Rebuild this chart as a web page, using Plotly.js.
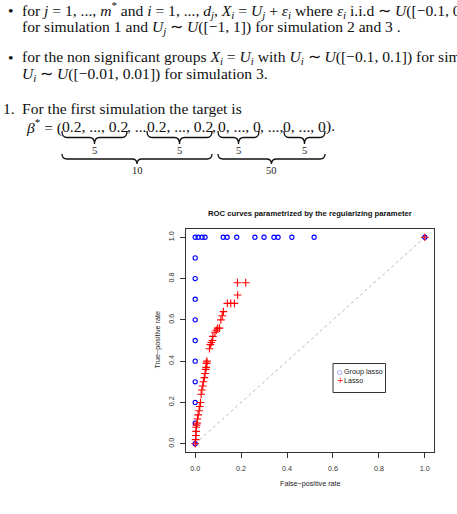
<!DOCTYPE html>
<html>
<head>
<meta charset="utf-8">
<script src="https://cdn.plot.ly/plotly-3.0.1.min.js"></script>
<style>
  html, body { margin: 0; padding: 0; background: #fff; }
  #chart { width: 457px; height: 514px; }
</style>
</head>
<body>
<div id="chart"></div>
<script>
// ROC curve data (false-positive rate, true-positive rate) along the regularization path
const groupLassoFPR = [0, 0, 0, 0, 0, 0, 0, 0, 0, 0,
  0, 0.013, 0.03, 0.043, 0.122, 0.139, 0.181, 0.26, 0.30, 0.343, 0.361, 0.421, 0.518, 1.0];
const groupLassoTPR = [0, 0.1, 0.2, 0.3, 0.4, 0.5, 0.6, 0.7, 0.8, 0.9,
  1, 1, 1, 1, 1, 1, 1, 1, 1, 1, 1, 1, 1, 1.0];

const lassoFPR = [0.000, 0.002, 0.003, 0.004, 0.004, 0.006, 0.008, 0.010, 0.013, 0.017,
  0.020, 0.023, 0.026, 0.029, 0.033, 0.036, 0.040, 0.043, 0.046, 0.048,
  0.048, 0.051, 0.051, 0.062, 0.066, 0.070, 0.075, 0.077, 0.086, 0.092,
  0.098, 0.106, 0.112, 0.118, 0.123, 0.140, 0.155, 0.171, 0.185, 0.184,
  0.220, 1.0];
const lassoTPR = [0.00, 0.02, 0.04, 0.06, 0.08, 0.09, 0.10, 0.12, 0.14, 0.16,
  0.18, 0.20, 0.24, 0.26, 0.28, 0.30, 0.32, 0.34, 0.36, 0.37,
  0.39, 0.40, 0.39, 0.46, 0.48, 0.49, 0.50, 0.52, 0.54, 0.55,
  0.56, 0.56, 0.60, 0.62, 0.64, 0.68, 0.68, 0.68, 0.72, 0.78,
  0.78, 1.0];

const chanceX = [0, 1];
const chanceY = [0, 1];

const tickVals = [0, 0.2, 0.4, 0.6, 0.8, 1.0];
const tickText = ['0.0', '0.2', '0.4', '0.6', '0.8', '1.0'];

const seriesNames = ['Group lasso', 'Lasso'];

// ---- page geometry (pixels) ----
const W = 457, H = 514;
const M = { l: 186, r: 23, t: 229, b: 62 };
const plotW = W - M.l - M.r, plotH = H - M.t - M.b;
const px = x => (x - M.l) / plotW;          // pixel x -> paper x
const py = y => (H - M.b - y) / plotH;      // pixel y -> paper y

const sans = 'Liberation Sans, Arial, sans-serif';
const serif = 'Liberation Serif, Times New Roman, serif';
const bodySize = 15.6;

const annotations = [];
function text(t, x, y, opts) {
  annotations.push(Object.assign({
    text: t, x: px(x), y: py(y), xref: 'paper', yref: 'paper',
    xanchor: 'left', yanchor: 'middle', showarrow: false, borderpad: 0,
    font: { family: serif, size: bodySize, color: '#111' }
  }, opts || {}));
}

// body text above the figure
text('•', 7, 10);
text('for <i>j</i> = 1, ..., <i>m</i><sup>*</sup> and <i>i</i> = 1, ..., <i>d<sub>j</sub></i>, <i>X<sub>i</sub></i> = <i>U<sub>j</sub></i> + <i>ε<sub>i</sub></i> where <i>ε<sub>i</sub></i> i.i.d ∼ <i>U</i>([−0.1, 0.1])', 21, 10);
text('for simulation 1 and <i>U<sub>j</sub></i> ∼ <i>U</i>([−1, 1]) for simulation 2 and 3 .', 21, 27);
text('•', 7, 57);
text('for the non significant groups <i>X<sub>i</sub></i> = <i>U<sub>i</sub></i> with <i>U<sub>i</sub></i> ∼ <i>U</i>([−0.1, 0.1]) for simulation 1 and 2 and', 21, 57);
text('<i>U<sub>i</sub></i> ∼ <i>U</i>([−0.01, 0.01]) for simulation 3.', 21, 74);
text('1.', 2, 108);
text('For the first simulation the target is', 21, 108);

// target vector, split so each run sits over its brace
const rowY = 126.5;
text('<i>β</i><sup>*</sup> = (', 62.5, rowY, { xanchor: 'right' });
text('0.2, ..., 0.2', 94.5, rowY, { xanchor: 'center' });
text(', ...', 126, rowY);
text('0.2, ..., 0.2', 179.5, rowY, { xanchor: 'center' });
text(',', 211, rowY);
text('0, ..., 0', 239, rowY, { xanchor: 'center' });
text(', ...,', 259, rowY);
text('0, ..., 0', 304.5, rowY, { xanchor: 'center' });
text(').', 325, rowY);

const braceLabelFont = { family: serif, size: 10.5, color: '#222' };
[[94.5, '5'], [179.5, '5'], [238.5, '5'], [304.5, '5']].forEach(([x, t]) =>
  text(t, x, 150, { xanchor: 'center', font: braceLabelFont }));
[[137, '10'], [271.5, '50']].forEach(([x, t]) =>
  text(t, x, 171, { xanchor: 'center', font: braceLabelFont }));

// underbrace outline in paper coordinates
function brace(x0, x1, y0, d) {
  const xm = (x0 + x1) / 2, ym = y0 + d / 2, yt = y0 + d, r = 5;
  const P = (x, y) => px(x).toFixed(5) + ',' + py(y).toFixed(5);
  return 'M' + P(x0, y0) + ' Q' + P(x0, ym) + ' ' + P(x0 + r, ym) +
    ' L' + P(xm - r, ym) + ' Q' + P(xm, ym) + ' ' + P(xm, yt) +
    ' Q' + P(xm, ym) + ' ' + P(xm + r, ym) +
    ' L' + P(x1 - r, ym) + ' Q' + P(x1, ym) + ' ' + P(x1, y0);
}
const braceLine = { color: '#111', width: 1.3 };
const shapes = [
  [62, 127, 131, 13], [147, 212, 131, 13], [218, 259, 131, 13], [284, 325, 131, 13],
  [62, 212, 154, 10], [218, 325, 154, 10]
].map(([a, b, y, d]) => ({
  type: 'path', xref: 'paper', yref: 'paper', path: brace(a, b, y, d),
  line: braceLine, fillcolor: 'rgba(0,0,0,0)'
}));

// legend box
shapes.push({
  type: 'rect', xref: 'paper', yref: 'paper',
  x0: px(333), x1: px(385.5), y0: py(363.5), y1: py(392.5),
  line: { color: '#333', width: 1 }, fillcolor: '#fff'
});
const legendFont = { family: sans, size: 7.2, color: '#222' };
text('○', 335.5, 371, { font: { family: 'DejaVu Sans', size: 6, color: '#0000ff' } });
text(seriesNames[0], 342.5, 371, { font: legendFont });
text('+', 335.5, 380.5, { font: { family: 'DejaVu Sans', size: 8, color: '#ff0000' } });
text(seriesNames[1], 342.5, 380.5, { font: legendFont });

// chart title and axis titles
text('<b>ROC curves parametrized by the regularizing parameter</b>', 310, 213,
  { xanchor: 'center', font: { family: sans, size: 7.7, color: '#111' } });
text('False−positive rate', 310, 483.5, { xanchor: 'center', font: { family: sans, size: 7.2, color: '#222' } });
text('True−positive rate', 157, 340.5, { xanchor: 'center', textangle: -90, font: { family: sans, size: 7.2, color: '#222' } });

const traces = [
  {
    x: chanceX, y: chanceY, type: 'scatter', mode: 'lines',
    line: { color: '#b8b8b8', width: 1, dash: 'dot' }, hoverinfo: 'skip', showlegend: false
  },
  {
    x: groupLassoFPR, y: groupLassoTPR, type: 'scatter', mode: 'markers', name: seriesNames[0],
    marker: { symbol: 'circle-open', size: 4.2, color: '#0000ff', line: { width: 1.1, color: '#0000ff' } },
    showlegend: false
  },
  {
    x: lassoFPR, y: lassoTPR, type: 'scatter', mode: 'markers', name: seriesNames[1],
    marker: { symbol: 'cross-thin-open', size: 5.5, color: '#ff0000', line: { width: 1.1, color: '#ff0000' } },
    showlegend: false
  }
];

const axisCommon = {
  range: [-0.04, 1.04], tickvals: tickVals, ticktext: tickText,
  showgrid: false, zeroline: false, showline: true, mirror: true,
  linecolor: '#333', linewidth: 1, ticks: 'outside', ticklen: 5,
  tickcolor: '#333', tickwidth: 1,
  tickfont: { family: sans, size: 7.2, color: '#333' }, automargin: false
};

const layout = {
  width: W, height: H,
  margin: M,
  paper_bgcolor: '#fff', plot_bgcolor: '#fff',
  showlegend: false,
  xaxis: Object.assign({}, axisCommon, { ticklabelstandoff: 4 }),
  yaxis: Object.assign({}, axisCommon, { tickangle: -90, ticklabelstandoff: 3 }),
  shapes: shapes,
  annotations: annotations
};

Plotly.newPlot('chart', traces, layout, { staticPlot: true, displayModeBar: false });
</script>
</body>
</html>
